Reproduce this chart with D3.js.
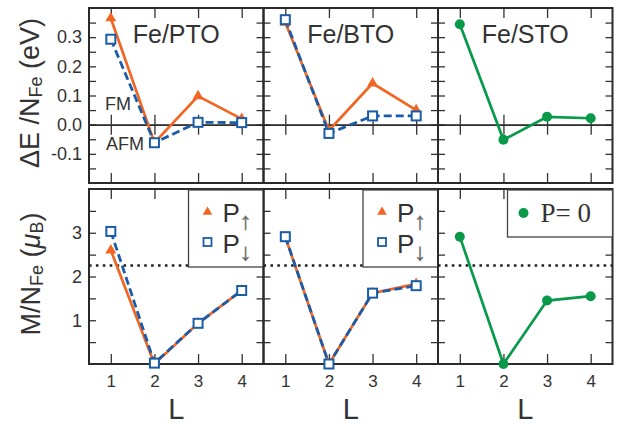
<!DOCTYPE html>
<html>
<head>
<meta charset="utf-8">
<script src="https://cdnjs.cloudflare.com/ajax/libs/d3/7.8.5/d3.min.js"></script>
<style>
    body { margin: 0; background: #fff; }
    text { font-family: "Liberation Sans", Arial, sans-serif; fill: #333; }
    .frame { fill: none; stroke: #2a2a2a; stroke-width: 2; }
    .tick line { stroke: #333; stroke-width: 1.3; }
    .domain { stroke: #222; stroke-width: 1.3; }
</style>
</head>
<body>
<div id="chart"></div>
<script>
// number of Fe layers
var layers = [1, 2, 3, 4];
var systemNames = ["Fe/PTO", "Fe/BTO", "Fe/STO"];

// energy difference per Fe atom (eV)
var energyUpPTO = [0.365, -0.062, 0.098, 0.02];
var energyDownPTO = [0.293, -0.062, 0.008, 0.007];
var energyUpBTO = [0.35, -0.02, 0.142, 0.05];
var energyDownBTO = [0.36, -0.03, 0.03, 0.03];
var energyZeroSTO = [0.344, -0.052, 0.027, 0.022];

// magnetic moment per Fe atom (muB)
var momentUpPTO = [2.6, 0.0, 0.93, 1.68];
var momentDownPTO = [3.03, 0.02, 0.93, 1.68];
var momentUpBTO = [2.9, 0.0, 1.62, 1.83];
var momentDownBTO = [2.91, 0.0, 1.62, 1.79];
var momentZeroSTO = [2.91, 0.0, 1.45, 1.55];
var bulkMoment = 2.25;

// ticks
var energyTicks = [-0.15, -0.1, -0.05, 0, 0.05, 0.1, 0.15, 0.2, 0.25, 0.3, 0.35];
var energyTickLabels = [-0.1, 0, 0.1, 0.2, 0.3];
var momentTicks = [0.5, 1, 1.5, 2, 2.5, 3, 3.5];
var momentTickLabels = [1, 2, 3];

var colors = {up: "#f26522", down: "#1b5ca8", zero: "#08994a"};

/**
 * Constructor for the six panel chart
 */
function PanelChart(){
    var self = this;
    self.init();
};

/**
 * Sets up svg, scales and panel positions
 */
PanelChart.prototype.init = function(){
    var self = this;
    self.svgWidth = 618;
    self.svgHeight = 425;
    self.margin = {left: 89, top: 8};
    self.panelW = 174.5;
    self.panelH = 175;
    self.rowGap = 6;

    self.svg = d3.select("#chart").append("svg")
        .attr("width", self.svgWidth)
        .attr("height", self.svgHeight);

    self.x = d3.scaleLinear().domain([0.5, 4.5]).range([0, self.panelW]);
    self.yEnergy = d3.scaleLinear().domain([-0.2, 0.4]).range([self.panelH, 0]);
    self.yMoment = d3.scaleLinear().domain([0, 4]).range([self.panelH, 0]);
};

/**
 * Creates the group for one panel, with frame and ticks
 */
PanelChart.prototype.panel = function(col, row, yScale, yTicks, yLabels, fmt){
    var self = this;
    var g = self.svg.append("g")
        .attr("transform", "translate(" + (self.margin.left + col*self.panelW) + "," +
            (self.margin.top + row*(self.panelH + self.rowGap)) + ")");

    // minor + major y ticks, pointing inward on both sides
    g.append("g").call(d3.axisLeft(yScale).tickValues(yTicks).tickSize(-7).tickFormat(""))
        .call(a => a.select(".domain").remove());
    g.append("g").attr("transform", "translate(" + self.panelW + ",0)")
        .call(d3.axisRight(yScale).tickValues(yTicks).tickSize(-7).tickFormat(""))
        .call(a => a.select(".domain").remove());

    if(col == 0){
        g.append("g").call(d3.axisLeft(yScale).tickValues(yLabels).tickSize(0).tickPadding(7).tickFormat(fmt))
            .attr("font-size", 18).attr("font-family", null)
            .call(a => a.select(".domain").remove());
    }

    // x ticks on top and bottom
    g.append("g").call(d3.axisTop(self.x).tickValues(layers).tickSize(-10).tickFormat(""))
        .call(a => a.select(".domain").remove());
    g.append("g").attr("transform", "translate(0," + self.panelH + ")")
        .call(d3.axisBottom(self.x).tickValues(layers).tickSize(-10).tickPadding(11)
            .tickFormat(row == 1 ? d3.format("d") : ""))
        .attr("font-size", 17).attr("font-family", null)
        .call(a => a.select(".domain").remove());

    if(row == 1){
        g.append("text")
            .attr("x", self.panelW/2)
            .attr("y", self.panelH + 55)
            .style("text-anchor", "middle")
            .style("font-size", "29px")
            .text("L");
    }
    return g;
};

/**
 * Draws one series line
 */
PanelChart.prototype.line = function(g, values, yScale, kind){
    var self = this;
    var line = d3.line()
        .x((d, i) => self.x(layers[i]))
        .y(d => yScale(d));
    g.append("path")
        .datum(values)
        .attr("d", line)
        .attr("fill", "none")
        .attr("stroke", colors[kind])
        .attr("stroke-width", kind == "down" ? 2.8 : 2.7)
        .attr("stroke-dasharray", kind == "down" ? "8,4" : null);
};

/**
 * Draws markers of one series
 */
PanelChart.prototype.markers = function(g, values, yScale, kind){
    var self = this;
    var pts = g.append("g").selectAll("g").data(values).enter();
    if(kind == "up"){
        pts.append("path")
            .attr("d", d3.symbol(d3.symbolTriangle, 52))
            .attr("transform", (d, i) => "translate(" + self.x(layers[i]) + "," + yScale(d) + ")")
            .attr("fill", colors.up);
    }
    else if(kind == "down"){
        pts.append("rect")
            .attr("x", (d, i) => self.x(layers[i]) - 4.5)
            .attr("y", d => yScale(d) - 4.5)
            .attr("width", 9)
            .attr("height", 9)
            .attr("fill", "#fff")
            .attr("stroke", colors.down)
            .attr("stroke-width", 2);
    }
    else {
        pts.append("circle")
            .attr("cx", (d, i) => self.x(layers[i]))
            .attr("cy", d => yScale(d))
            .attr("r", 5)
            .attr("fill", colors.zero);
    }
};

PanelChart.prototype.series = function(g, list, yScale){
    var self = this;
    list.forEach(s => self.line(g, s.values, yScale, s.kind));
    list.forEach(s => self.markers(g, s.values, yScale, s.kind));
};

/**
 * Legend box in the top right corner of a bottom panel
 */
PanelChart.prototype.legend = function(g, polarized){
    var self = this;
    var w = polarized ? 75 : 105;
    var h = polarized ? 77 : 47;
    var lg = g.append("g").attr("transform", "translate(" + (self.panelW - w) + ",1)");
    lg.append("rect").attr("width", w).attr("height", h)
        .attr("fill", "#fff").attr("stroke", "#444").attr("stroke-width", 1.3);

    if(polarized){
        lg.append("path").attr("d", d3.symbol(d3.symbolTriangle, 40))
            .attr("transform", "translate(19,22)").attr("fill", colors.up);
        lg.append("rect").attr("x", 15).attr("y", 48).attr("width", 8).attr("height", 8)
            .attr("fill", "#fff").attr("stroke", colors.down).attr("stroke-width", 1.8);
        [["\u2191", 32], ["\u2193", 63]].forEach(function(e){
            var t = lg.append("text").attr("x", 34).attr("y", e[1]).style("font-size", "26px");
            t.append("tspan").text("P");
            // stroke forces grayscale antialiasing on the thin arrow glyph
            t.append("tspan").attr("dy", 7)
                .style("font-size", "24px").style("fill", "#666")
                .style("stroke", "#666").style("stroke-width", 0.4)
                .text(e[0]);
        });
    }
    else {
        lg.append("circle").attr("cx", 16).attr("cy", 23).attr("r", 5).attr("fill", colors.zero);
        lg.append("text").attr("x", 33).attr("y", 32)
            .style("font-family", "'Liberation Serif', 'DejaVu Serif', serif")
            .style("font-size", "27px")
            .text("P= 0");
    }
};

PanelChart.prototype.update = function(){
    var self = this;
    var energyFmt = d => d.toFixed(1);
    var momentFmt = d3.format("d");

    var energySeries = [
        [{values: energyUpPTO, kind: "up"}, {values: energyDownPTO, kind: "down"}],
        [{values: energyUpBTO, kind: "up"}, {values: energyDownBTO, kind: "down"}],
        [{values: energyZeroSTO, kind: "zero"}]
    ];
    var momentSeries = [
        [{values: momentUpPTO, kind: "up"}, {values: momentDownPTO, kind: "down"}],
        [{values: momentUpBTO, kind: "up"}, {values: momentDownBTO, kind: "down"}],
        [{values: momentZeroSTO, kind: "zero"}]
    ];

    systemNames.forEach(function(name, col){
        // top row: energy difference
        var top = self.panel(col, 0, self.yEnergy, energyTicks, energyTickLabels, energyFmt);
        var zero = self.yEnergy(0);
        top.append("g").attr("transform", "translate(0," + zero + ")")
            .call(d3.axisBottom(self.x).tickValues(layers).tickSize(10).tickSizeOuter(0).tickFormat(""));
        top.append("g").attr("transform", "translate(0," + zero + ")")
            .call(d3.axisTop(self.x).tickValues(layers).tickSize(10).tickSizeOuter(0).tickFormat(""));
        top.append("rect").attr("class", "frame").attr("width", self.panelW).attr("height", self.panelH);
        top.append("text")
            .attr("x", self.panelW/2)
            .attr("y", 35)
            .style("text-anchor", "middle")
            .style("font-size", "25px")
            .text(name);
        if(col == 0){
            top.append("text").attr("x", 16).attr("y", 102).style("font-size", "18px").text("FM");
            top.append("text").attr("x", 17).attr("y", 142).style("font-size", "18px").text("AFM");
        }
        self.series(top, energySeries[col], self.yEnergy);

        // bottom row: magnetic moment
        var bot = self.panel(col, 1, self.yMoment, momentTicks, momentTickLabels, momentFmt);
        bot.append("rect").attr("class", "frame").attr("width", self.panelW).attr("height", self.panelH);
        bot.append("line")
            .attr("x1", 0).attr("x2", self.panelW)
            .attr("y1", self.yMoment(bulkMoment)).attr("y2", self.yMoment(bulkMoment))
            .attr("stroke", "#222").attr("stroke-width", 2.6).attr("stroke-dasharray", "2.6,4.3");
        self.legend(bot, col < 2);
        self.series(bot, momentSeries[col], self.yMoment);
    });

    // axis titles
    var t1 = self.svg.append("text")
        .attr("transform", "translate(39,93) rotate(-90)")
        .style("text-anchor", "middle")
        .style("font-size", "27px");
    t1.append("tspan").text("\u0394E /N");
    t1.append("tspan").attr("dy", 3).style("font-size", "18px").text("Fe");
    t1.append("tspan").attr("dy", -3).text(" (eV)");

    var t2 = self.svg.append("text")
        .attr("transform", "translate(40,274) rotate(-90)")
        .style("text-anchor", "middle")
        .style("font-size", "27px");
    t2.append("tspan").text("M/N");
    t2.append("tspan").attr("dy", 3).style("font-size", "18px").text("Fe");
    t2.append("tspan").attr("dy", -3).text(" (");
    t2.append("tspan").style("font-style", "italic").text("\u03bc");
    t2.append("tspan").attr("dy", 3).style("font-size", "18px").text("B");
    t2.append("tspan").attr("dy", -3).text(")");
};

var chart = new PanelChart();
chart.update();
</script>
</body>
</html>
